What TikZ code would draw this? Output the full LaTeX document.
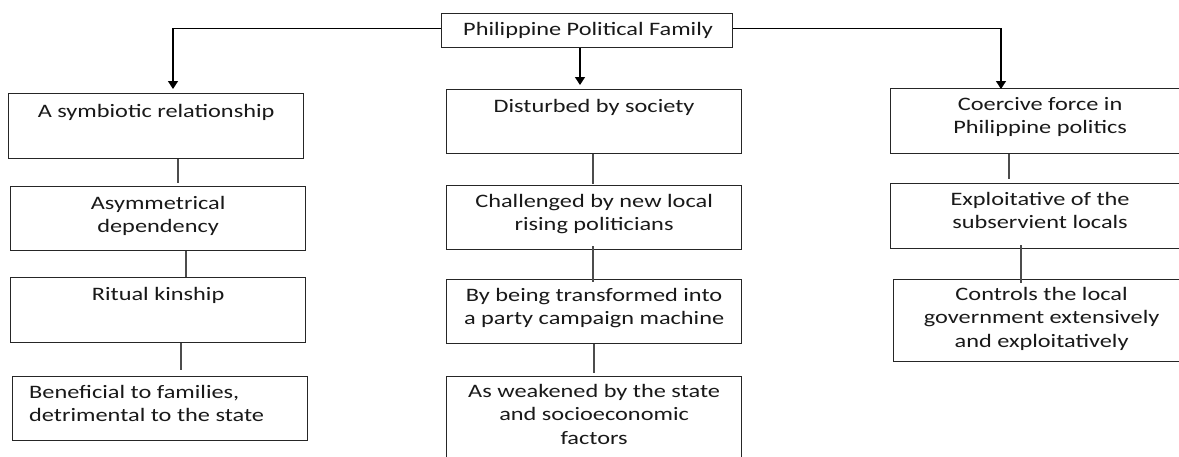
\documentclass[tikz,border=0pt]{standalone}
\usepackage{fontspec}
\setmainfont{Carlito}[FakeStretch=1.28]
\usetikzlibrary{arrows.meta,calc}
\tikzset{
  box/.style={draw=black!85, line width=1.2pt, rectangle, inner sep=0pt, anchor=north west},
  txt/.style={inner sep=0pt, anchor=north, align=center, text=black!90,
    font=\fontsize{19}{23.3}\selectfont},
  ltxt/.style={inner sep=0pt, anchor=north west, align=left, text=black!90,
    font=\fontsize{19}{23.3}\selectfont},
  link/.style={draw=black!70, line width=1.3pt},
  arr/.style={draw=black, line width=1.3pt, -{Triangle[width=10pt,length=8pt]}}
}
\newcommand{\bx}[5]{% name, x1,y1,x2,y2
  \node[box, minimum width={#4-#2}, minimum height={#5-#3}] (#1) at (#2,#3) {};}
\begin{document}
\begin{tikzpicture}[x=1pt,y=-1pt]
\useasboundingbox (0,0) rectangle (1179,456);
\clip (0,0) rectangle (1179,456);
\fill[white] (0,0) rectangle (1179,456);
% boxes
\bx{T}{441}{13}{732}{47}
\bx{L1}{8}{93}{303}{158}
\bx{L2}{10}{186}{305}{250}
\bx{L3}{10}{277}{305}{342}
\bx{L4}{12}{376}{307}{440}
\bx{M1}{446}{89}{741}{153}
\bx{M2}{446}{185}{741}{249}
\bx{M3}{446}{279}{741}{343}
\bx{M4}{446}{376}{741}{470}
\bx{R1}{890}{88}{1189}{153}
\bx{R2}{890}{183}{1189}{248}
\bx{R3}{893}{279}{1189}{361}
% texts
\node[txt] (tT) at ($(T.north)+(1,6)$) {\strut Philippine Political Family};
\node[txt] (tL1) at ($(L1.north)+(0,8)$) {\strut A symbiotic relationship};
\node[txt] (tL2) at ($(L2.north)+(0,7)$) {\strut Asymmetrical\\dependency};
\node[txt] (tL3) at ($(L3.north)+(0,7)$) {\strut Ritual kinship};
\node[ltxt] (tL4) at ($(L4.north west)+(17,6)$) {\strut Beneficial to families,\\detrimental to the state};
\node[txt] (tM1) at ($(M1.north)+(0,7)$) {\strut Disturbed by society};
\node[txt] (tM2) at ($(M2.north)+(0,6)$) {\strut Challenged by new local\\rising politicians};
\node[txt] (tM3) at ($(M3.north)+(0,6)$) {\strut By being transformed into\\a party campaign machine};
\node[txt] (tM4) at ($(M4.north)+(0,5)$) {\strut As weakened by the state\\and socioeconomic\\factors};
\node[txt] (tR1) at ($(R1.north)+(0,6)$) {\strut Coercive force in\\Philippine politics};
\node[txt] (tR2) at ($(R2.north)+(0,6)$) {\strut Exploitative of the\\subservient locals};
\node[txt] (tR3) at ($(R3.north)+(0,5)$) {\strut Controls the local\\government extensively\\and exploitatively};
% arrows from top
\draw[arr] ([yshift=2pt]T.west) -| ($(L1.north west)+(165,-4)$);
\draw[arr] ([yshift=2pt]T.east) -| ($(R1.north west)+(111,1)$);
\draw[arr] ($(T.south west)+(139,0)$) -- ($(M1.north west)+(134,-4)$);
% vertical links
\draw[link] (L1.south -| 178,0) -- ($(L2.north -| 178,0)+(0,-3)$);
\draw[link] (L2.south -| 186,0) -- (L3.north -| 186,0);
\draw[link] (L3.south -| 181,0) -- ($(L4.north -| 181,0)+(0,-6)$);
\draw[link] (M1.south -| 593,0) -- ($(M2.north -| 593,0)+(0,-1)$);
\draw[link] ($(M2.south -| 593,0)+(0,-4)$) -- ($(M3.north -| 593,0)+(0,3)$);
\draw[link] (M3.south -| 594,0) -- ($(M4.north -| 594,0)+(0,-3)$);
\draw[link] (R1.south -| 1009,0) -- ($(R2.north -| 1009,0)+(0,-4)$);
\draw[link] ($(R2.south -| 1021,0)+(0,-4)$) -- ($(R3.north -| 1021,0)+(0,4)$);
\end{tikzpicture}
\end{document}
